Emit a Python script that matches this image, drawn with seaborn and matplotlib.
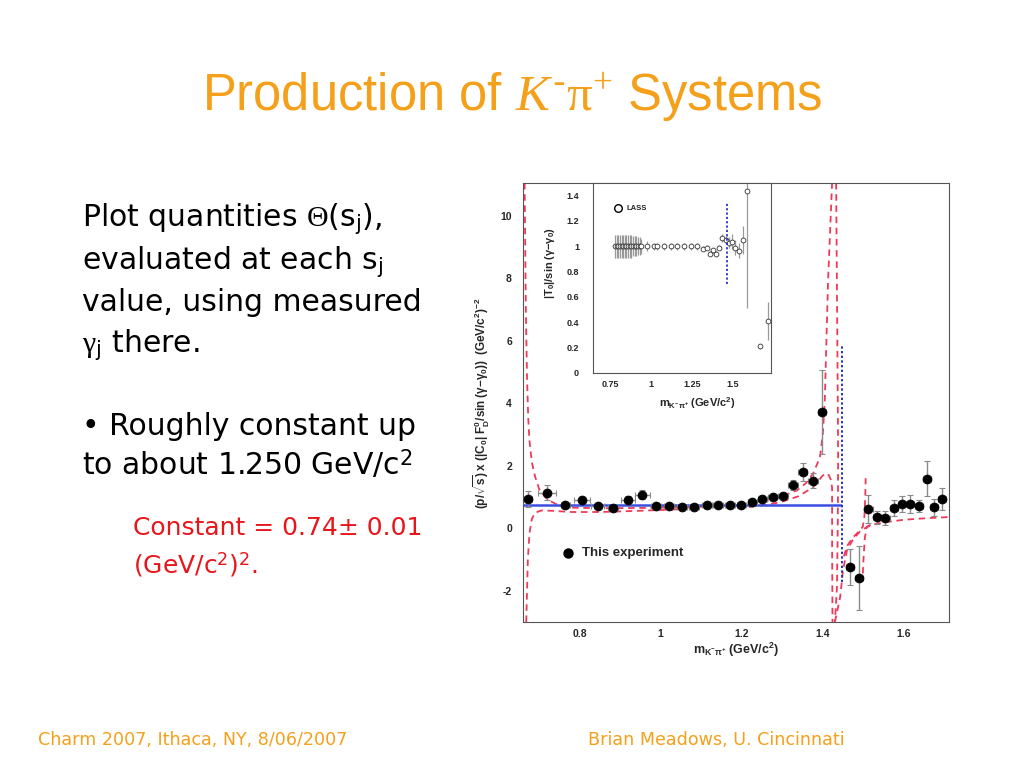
import matplotlib
matplotlib.use("Agg")
import matplotlib.pyplot as plt
import seaborn as sns
import pandas as pd
from matplotlib.ticker import MultipleLocator, FixedLocator

sns.set_theme(style="white")
plt.rcParams["font.family"] = ["Liberation Sans", "DejaVu Sans"]
plt.rcParams["mathtext.fontset"] = "custom"
plt.rcParams["mathtext.rm"] = "Liberation Serif"
plt.rcParams["mathtext.it"] = "Liberation Serif:italic"
plt.rcParams["mathtext.bf"] = "Liberation Sans:bold"
plt.rcParams["mathtext.sf"] = "DejaVu Sans"

# ---------------- data: "This experiment" ----------------
exp_x = [0.672, 0.719, 0.765, 0.806, 0.845, 0.883, 0.920, 0.955, 0.988, 1.021, 1.053, 1.083,
         1.114, 1.142, 1.171, 1.200, 1.227, 1.252, 1.277, 1.303, 1.328, 1.351, 1.376, 1.400,
         1.468, 1.490, 1.514, 1.534, 1.556, 1.577, 1.598, 1.617, 1.638, 1.658, 1.677, 1.695]
exp_y = [0.93, 1.14, 0.75, 0.91, 0.72, 0.66, 0.91, 1.08, 0.72, 0.71, 0.68, 0.69,
         0.73, 0.74, 0.74, 0.74, 0.83, 0.95, 0.99, 1.04, 1.39, 1.80, 1.52, 3.73,
         -1.25, -1.60, 0.62, 0.35, 0.34, 0.64, 0.77, 0.77, 0.72, 1.59, 0.67, 0.93]
exp_yerr = [0.25, 0.25, 0.10, 0.10, 0.07, 0.06, 0.12, 0.15, 0.06, 0.06, 0.05, 0.05,
            0.05, 0.05, 0.05, 0.05, 0.06, 0.08, 0.08, 0.08, 0.16, 0.30, 0.24, 1.35,
            0.58, 1.02, 0.45, 0.20, 0.22, 0.25, 0.25, 0.28, 0.20, 0.57, 0.27, 0.35]
exp_xerr = [0.010, 0.023, 0.012, 0.019, 0.016, 0.012, 0.017, 0.019, 0.012, 0.012, 0.012, 0.012,
            0.012, 0.012, 0.012, 0.012, 0.012, 0.012, 0.012, 0.012, 0.012, 0.012, 0.012, 0.010,
            0.010, 0.010, 0.010, 0.010, 0.010, 0.010, 0.010, 0.010, 0.010, 0.010, 0.010, 0.010]

# fitted constant
const_value = 0.74
const_x = [0.66, 1.447]
cut_x = 1.449
cut_y = [-1.72, 5.84]

# error-band curves
band_up_x = [0.664, 0.667, 0.670, 0.673, 0.676, 0.682, 0.690, 0.700, 0.720, 0.750, 0.780, 0.850,
             0.950, 1.050, 1.150, 1.221, 1.260, 1.295, 1.337, 1.360, 1.377, 1.394, 1.401, 1.406,
             1.414, 1.424]
band_up_y = [11.05, 7.0, 4.8, 3.5, 2.8, 2.1, 1.65, 1.25, 0.92, 0.72, 0.66, 0.64,
             0.65, 0.67, 0.70, 0.73, 0.85, 1.00, 1.21, 1.45, 1.75, 2.27, 3.0, 4.1,
             7.9, 11.05]
band_lo_x = [0.668, 0.670, 0.672, 0.676, 0.682, 0.690, 0.706, 0.730, 0.780, 0.850, 0.950, 1.050,
             1.150, 1.213, 1.260, 1.295, 1.340, 1.377, 1.401, 1.414, 1.421, 1.424, 1.424, 1.425]
band_lo_y = [-3.0, -2.0, -1.0, -0.16, 0.30, 0.50, 0.57, 0.56, 0.52, 0.52, 0.56, 0.61,
             0.66, 0.67, 0.75, 0.83, 1.02, 1.31, 1.69, 1.75, 1.55, 1.3, -0.38, -3.0]
band_r1_x = [1.434, 1.437, 1.439, 1.438, 1.436, 1.431]
band_r1_y = [11.05, 6.0, 2.17, 0.0, -1.9, -3.0]
band_r2_x = [1.431, 1.444, 1.451, 1.461, 1.476, 1.493, 1.510, 1.535, 1.560, 1.600, 1.642, 1.713]
band_r2_y = [-3.0, -2.2, -1.34, -0.70, -0.35, -0.10, 0.04, 0.15, 0.20, 0.27, 0.31, 0.36]
band_r3_x = [1.453, 1.462, 1.475, 1.489, 1.500, 1.504, 1.506, 1.507]
band_r3_y = [-0.90, -0.55, -0.30, -0.12, 0.05, 0.40, 1.00, 1.60]
band_r4_x = [1.500, 1.502, 1.505, 1.510, 1.520]
band_r4_y = [-1.45, -0.90, -0.30, 0.05, 0.12]

# ---------------- data: LASS (inset) ----------------
lass_x = [0.780, 0.790, 0.800, 0.810, 0.820, 0.830, 0.840, 0.850, 0.860, 0.870, 0.880, 0.890,
          0.900, 0.910, 0.920, 0.930, 0.940, 0.976, 1.017, 1.037, 1.079, 1.120, 1.161, 1.200,
          1.243, 1.280, 1.321, 1.341, 1.362, 1.378, 1.399, 1.419, 1.438, 1.458, 1.475, 1.495,
          1.516, 1.540, 1.561, 1.588, 1.670, 1.715]
lass_y = [1.00, 1.00, 1.00, 1.00, 1.00, 1.00, 1.00, 1.00, 1.00, 1.00, 1.00, 1.00,
          1.00, 1.00, 1.00, 1.00, 1.00, 1.00, 1.00, 1.00, 1.00, 1.00, 1.00, 1.00,
          1.00, 1.00, 0.98, 0.99, 0.94, 0.97, 0.94, 0.99, 1.065, 1.05, 1.03, 1.035,
          0.99, 0.965, 1.05, 1.44, 0.21, 0.41]
lass_yerr = [0.09, 0.09, 0.09, 0.09, 0.09, 0.09, 0.09, 0.09, 0.09, 0.09, 0.09, 0.08,
             0.08, 0.08, 0.07, 0.07, 0.06, 0.04, 0.03, 0.03, 0.03, 0.03, 0.03, 0.03,
             0.03, 0.03, 0.02, 0.02, 0.02, 0.02, 0.02, 0.02, 0.03, 0.03, 0.04, 0.06,
             0.06, 0.06, 0.11, 0.93, 0.02, 0.15]
lass_cut_y = [0.70, 1.35]

# ---------------- figure ----------------
fig = plt.figure(figsize=(10.24, 7.68), dpi=100)
fig.patch.set_facecolor("white")

orange = "#F5A01A"
red_txt = "#E8161B"
band_col = "#EE3A5A"
blue = "#3A4FE0"

# slide texts
title = (r"Production of $\mathit{K}^{\mathsf{" + "\u2010" +
         r"}}\mathrm{\pi}^{\mathrm{+}}$ Systems")
fig.text(0.5, 1 - 110 / 768, title,
         ha="center", va="baseline", fontsize=36.5, color=orange, family="Liberation Sans")

body_kw = dict(ha="left", va="baseline", fontsize=21.5, color="black", family="DejaVu Sans")
lx = 82 / 1024
fig.text(lx, 1 - 227 / 768, r"Plot quantities $\mathrm{\Theta}$(s$_{\mathsf{j}}$),", **body_kw)
fig.text(lx, 1 - 270 / 768, r"evaluated at each s$_{\mathsf{j}}$", **body_kw)
fig.text(lx, 1 - 311 / 768, "value, using measured", **body_kw)
fig.text(lx, 1 - 353 / 768, r"$\mathrm{\gamma}_{\mathsf{j}}$ there.", **body_kw)
fig.text(lx, 1 - 435 / 768, "\u2022 Roughly constant up", **body_kw)
fig.text(lx, 1 - 475 / 768, r"to about 1.250 GeV/c$^{\mathsf{2}}$", **body_kw)
red_kw = dict(ha="left", va="baseline", fontsize=18, color=red_txt, family="DejaVu Sans")
fig.text(133 / 1024, 1 - 535 / 768, "Constant = 0.74\u00b1 0.01", **red_kw)
fig.text(133 / 1024, 1 - 573 / 768, r"(GeV/c$^{\mathsf{2}}$)$^{\mathsf{2}}$.", **red_kw)

foot_kw = dict(va="baseline", fontsize=12.6, color=orange, family="DejaVu Sans")
fig.text(38 / 1024, 1 - 745 / 768, "Charm 2007, Ithaca, NY, 8/06/2007", ha="left", **foot_kw)
fig.text(588 / 1024, 1 - 745 / 768, "Brian Meadows, U. Cincinnati", ha="left", **foot_kw)

# ---------------- main axes ----------------
ax = fig.add_axes([523 / 1024, 1 - 622 / 768, (949 - 523) / 1024, (622 - 183) / 768])
ax.set_facecolor("white")

curves = [(band_up_x, band_up_y), (band_lo_x, band_lo_y), (band_r1_x, band_r1_y),
          (band_r2_x, band_r2_y), (band_r3_x, band_r3_y), (band_r4_x, band_r4_y)]
band_lines = []
for cx, cy in curves:
    df = pd.DataFrame({"x": cx, "y": cy})
    n0 = len(ax.lines)
    sns.lineplot(data=df, x="x", y="y", sort=False, estimator=None, ax=ax,
                 color=band_col, lw=1.3, zorder=2)
    band_lines.extend(ax.lines[n0:])
for ln in band_lines:
    ln.set_linestyle((0, (3.6, 2.6)))

sns.lineplot(x=const_x, y=[const_value, const_value], ax=ax, color=blue, lw=1.8, zorder=3)
ax.plot([cut_x, cut_x], cut_y, color="#2233CC", lw=1.4, ls=(0, (1.2, 1.2)), zorder=3)

ax.errorbar(exp_x, exp_y, yerr=exp_yerr, xerr=exp_xerr, fmt="none", ecolor="#8a8a8a",
            elinewidth=1.0, capsize=2, capthick=0.8, zorder=4)
sns.scatterplot(x=exp_x, y=exp_y, ax=ax, color="black", s=42, edgecolor="black",
                linewidth=0.5, zorder=5)

ax.set_xlim(0.66, 1.713)
ax.set_ylim(-3.0, 11.05)
ax.xaxis.set_major_locator(FixedLocator([0.8, 1.0, 1.2, 1.4, 1.6]))
ax.xaxis.set_minor_locator(MultipleLocator(0.05))
ax.yaxis.set_major_locator(FixedLocator([-2, 0, 2, 4, 6, 8, 10]))
ax.yaxis.set_minor_locator(MultipleLocator(0.5))
ax.set_xticklabels(["0.8", "1", "1.2", "1.4", "1.6"])
ax.set_yticklabels(["-2", "0", "2", "4", "6", "8", "10"])
ax.tick_params(axis="both", which="major", direction="in", length=6, width=0.8,
               color="#444444", labelsize=7.5, top=False, right=False)
ax.tick_params(axis="both", which="minor", direction="in", length=3, width=0.7,
               color="#444444", top=False, right=False)
ax.tick_params(axis="y", which="major", pad=8)
ax.tick_params(axis="x", which="major", pad=5)
ax.minorticks_on()
for lab in ax.get_xticklabels() + ax.get_yticklabels():
    lab.set_fontweight("bold")
for sp in ax.spines.values():
    sp.set_color("#555555")
    sp.set_linewidth(0.8)
ax.set_xlabel("")
ax.set_ylabel("")

fig.text(736 / 1024, 1 - 650 / 768, r"$\mathbf{m_{K^{-}\pi^{+}}\ (GeV/c^{2})}$",
         ha="center", va="center", fontsize=9)
fig.text(482 / 1024, 1 - 403 / 768,
         r"$\mathbf{(p/\sqrt{s})\ x\ (|C_{0}|\ F_{D}^{0}/sin\ (\gamma{-}\gamma_{0}))\ \ (GeV/c^{2})^{-2}}$",
         ha="center", va="center", rotation=90, fontsize=8.5)

# legend
ax.scatter([0.77], [-0.79], s=42, color="black", zorder=6)
ax.text(0.807, -0.79, "This experiment", fontsize=9.5, fontweight="bold", va="center", ha="left")

# ---------------- inset ----------------
ins = fig.add_axes([593 / 1024, 1 - 373 / 768, (771 - 593) / 1024, (373 - 183) / 768])
ins.set_facecolor("white")
ins.errorbar(lass_x, lass_y, yerr=lass_yerr, fmt="none", ecolor="#999999", elinewidth=0.9, zorder=2)
sns.scatterplot(x=lass_x, y=lass_y, ax=ins, s=12, facecolor="white", edgecolor="#333333",
                linewidth=0.6, zorder=3)
ins.plot([1.465, 1.465], lass_cut_y, color="#2233CC", lw=1.3, ls=(0, (1.2, 1.2)), zorder=4)
ins.scatter([0.801], [1.30], s=30, facecolor="white", edgecolor="black", linewidth=1.0, zorder=5)
ins.text(0.85, 1.30, "LASS", fontsize=5.5, fontweight="bold", va="center", ha="left")

ins.set_xlim(0.645, 1.735)
ins.set_ylim(0, 1.5)
ins.xaxis.set_major_locator(FixedLocator([0.75, 1.0, 1.25, 1.5]))
ins.xaxis.set_minor_locator(MultipleLocator(0.05))
ins.yaxis.set_major_locator(FixedLocator([0, 0.2, 0.4, 0.6, 0.8, 1.0, 1.2, 1.4]))
ins.yaxis.set_minor_locator(MultipleLocator(0.05))
ins.set_xticklabels(["0.75", "1", "1.25", "1.5"])
ins.set_yticklabels(["0", "0.2", "0.4", "0.6", "0.8", "1", "1.2", "1.4"])
ins.tick_params(axis="both", which="major", direction="in", length=4, width=0.7,
                color="#444444", labelsize=6.5, top=False, right=False)
ins.tick_params(axis="both", which="minor", direction="in", length=2, width=0.6,
                color="#444444", top=False, right=False)
ins.tick_params(axis="y", which="major", pad=10)
ins.tick_params(axis="x", which="major", pad=5)
ins.minorticks_on()
for lab in ins.get_xticklabels() + ins.get_yticklabels():
    lab.set_fontweight("bold")
for sp in ins.spines.values():
    sp.set_color("#555555")
    sp.set_linewidth(0.8)
ins.set_xlabel("")
ins.set_ylabel("")

fig.text(697 / 1024, 1 - 403 / 768, r"$\mathbf{m_{K^{-}\pi^{+}}\ (GeV/c^{2})}$",
         ha="center", va="center", fontsize=8)
fig.text(550 / 1024, 1 - 263 / 768, r"$\mathbf{|T_{0}|/sin\ (\gamma{-}\gamma_{0})}$",
         ha="center", va="center", rotation=90, fontsize=8)

fig.savefig("out.png", dpi=100, facecolor="white")
